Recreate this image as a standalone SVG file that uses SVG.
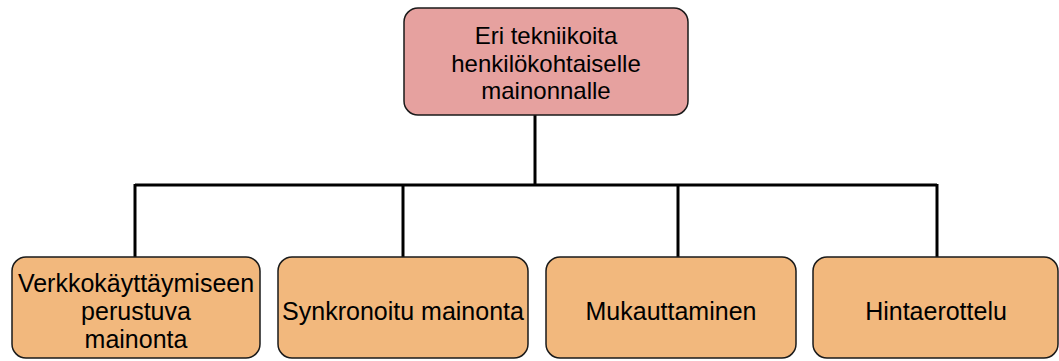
<svg xmlns="http://www.w3.org/2000/svg" width="1059" height="361" viewBox="0 0 1059 361">
  <style>
    .box { stroke: #1a1a1a; stroke-width: 1.5; }
    .root { fill: #E6A19F; }
    .leaf { fill: #F2B87D; }
    .label { font-family: "Liberation Sans", Arial, sans-serif; font-size: 25px; fill: #000; text-anchor: middle; }
    .root-label { font-size: 24px; }
    .wire { fill: none; stroke: #000; stroke-width: 3; }
  </style>
  <rect width="1059" height="361" fill="#fff"/>

  <!-- tree connectors -->
  <g id="connectors">
    <path class="wire" d="M535 115 V185"/>
    <path class="wire" d="M135 185 H937"/>
    <path class="wire" d="M135 184 V257"/>
    <path class="wire" d="M403 185 V257"/>
    <path class="wire" d="M678 185 V257"/>
    <path class="wire" d="M937 184 V257"/>
  </g>

  <g id="root">
    <rect class="box root" x="404" y="8" width="284" height="107" rx="14"/>
    <text class="label root-label" x="546" y="44">Eri tekniikoita</text>
    <text class="label root-label" x="546" y="72">henkilökohtaiselle</text>
    <text class="label root-label" x="546" y="99">mainonnalle</text>
  </g>

  <g id="node-verkko">
    <rect class="box leaf" x="12" y="257" width="248" height="101" rx="14"/>
    <text class="label" x="136" y="292">Verkkokäyttäymiseen</text>
    <text class="label" x="136" y="320">perustuva</text>
    <text class="label" x="136" y="348">mainonta</text>
  </g>

  <g id="node-synkronoitu">
    <rect class="box leaf" x="278" y="257" width="250" height="101" rx="14"/>
    <text class="label" x="403" y="320">Synkronoitu mainonta</text>
  </g>

  <g id="node-mukauttaminen">
    <rect class="box leaf" x="546" y="257" width="250" height="101" rx="14"/>
    <text class="label" x="671" y="320">Mukauttaminen</text>
  </g>

  <g id="node-hintaerottelu">
    <rect class="box leaf" x="813" y="257" width="245" height="101" rx="14"/>
    <text class="label" x="936" y="320">Hintaerottelu</text>
  </g>
</svg>
